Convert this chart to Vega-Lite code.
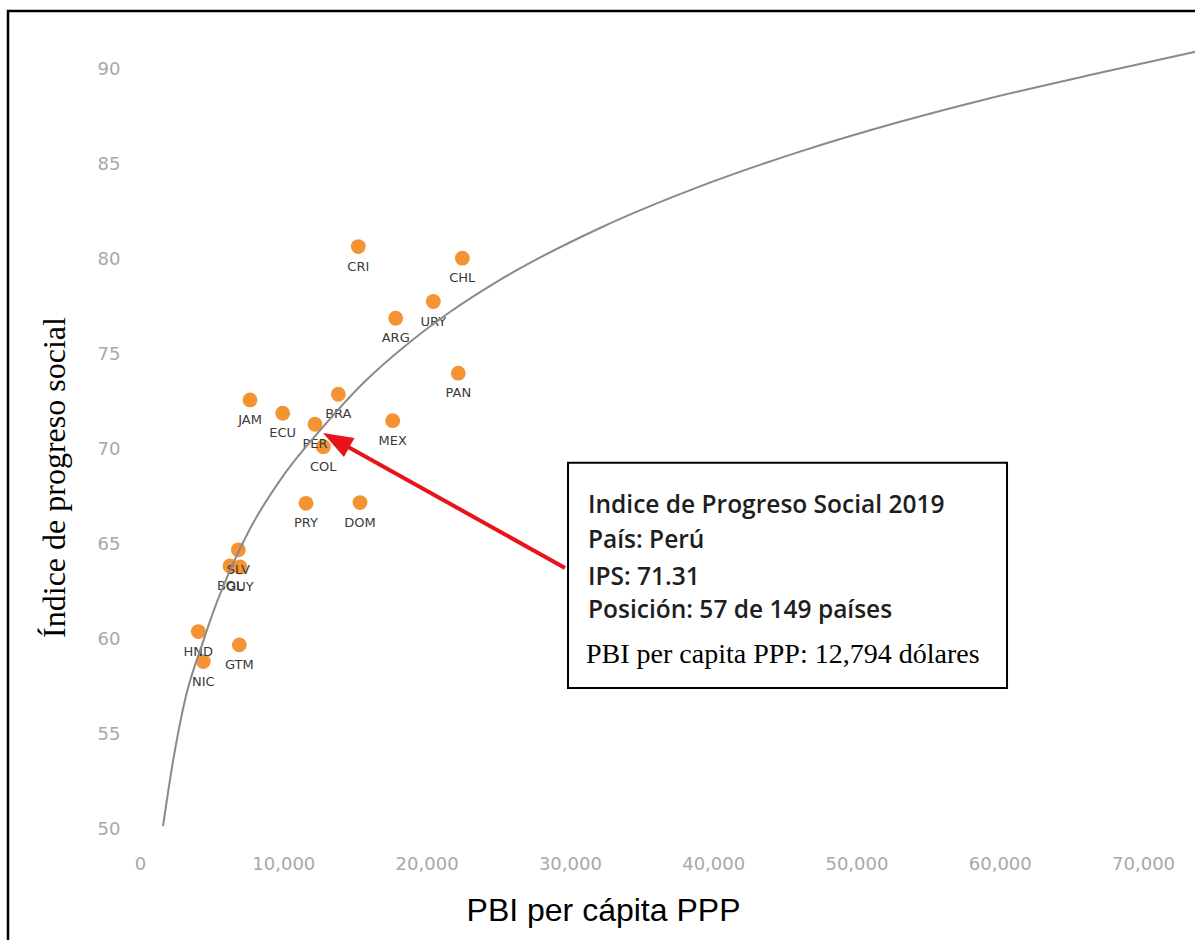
{
  "$schema": "https://vega.github.io/schema/vega-lite/v6.json",
  "width": 1190,
  "height": 932,
  "autosize": {"type": "none"},
  "padding": {"left": 8, "top": 11, "right": -3, "bottom": -3},
  "background": "white",
  "config": {
    "view": {"stroke": "black", "strokeWidth": 2.5},
    "axis": {"grid": false, "domain": false, "ticks": false}
  },
  "datasets": {
    "countries": [
      {"iso": "CRI", "pbi": 15235, "ips": 80.70},
      {"iso": "CHL", "pbi": 22494, "ips": 80.09},
      {"iso": "URY", "pbi": 20470, "ips": 77.81},
      {"iso": "ARG", "pbi": 17845, "ips": 76.93},
      {"iso": "PAN", "pbi": 22214, "ips": 74.04},
      {"iso": "BRA", "pbi": 13840, "ips": 72.93},
      {"iso": "JAM", "pbi": 7677, "ips": 72.63},
      {"iso": "ECU", "pbi": 9959, "ips": 71.93},
      {"iso": "MEX", "pbi": 17636, "ips": 71.54},
      {"iso": "COL", "pbi": 12793, "ips": 70.17},
      {"iso": "PER", "pbi": 12213, "ips": 71.35},
      {"iso": "PRY", "pbi": 11585, "ips": 67.19},
      {"iso": "DOM", "pbi": 15354, "ips": 67.23},
      {"iso": "SLV", "pbi": 6860, "ips": 64.74},
      {"iso": "BOL", "pbi": 6281, "ips": 63.89},
      {"iso": "GUY", "pbi": 6979, "ips": 63.84},
      {"iso": "HND", "pbi": 4069, "ips": 60.44},
      {"iso": "NIC", "pbi": 4418, "ips": 58.86},
      {"iso": "GTM", "pbi": 6930, "ips": 59.74}
    ],
    "curve": [
      {"pbi": 1605, "ips": 50.2},
      {"pbi": 2300, "ips": 53.6},
      {"pbi": 3141, "ips": 56.84},
      {"pbi": 4397, "ips": 59.9},
      {"pbi": 5374, "ips": 62.0},
      {"pbi": 6421, "ips": 63.9},
      {"pbi": 7677, "ips": 65.85},
      {"pbi": 10001, "ips": 68.65},
      {"pbi": 12793, "ips": 71.23},
      {"pbi": 15584, "ips": 73.52},
      {"pbi": 18843, "ips": 75.68},
      {"pbi": 21635, "ips": 77.26},
      {"pbi": 25124, "ips": 78.95},
      {"pbi": 32103, "ips": 81.68},
      {"pbi": 39082, "ips": 83.87},
      {"pbi": 46061, "ips": 85.70},
      {"pbi": 53040, "ips": 87.27},
      {"pbi": 58833, "ips": 88.42},
      {"pbi": 67000, "ips": 89.85},
      {"pbi": 73629, "ips": 90.95}
    ],
    "box": [{"x1": 29870, "x2": 60508, "y1": 69.32, "y2": 57.47}],
    "arrow": [{"x1": 29661, "y1": 63.79, "x2": 13686, "y2": 70.51}],
    "head": [{"x": 13686, "y": 70.51}],
    "boxtext": [
      {"x": 31266, "y": 66.67, "t": "Indice de Progreso Social 2019"},
      {"x": 31266, "y": 64.83, "t": "País: Perú"},
      {"x": 31266, "y": 62.89, "t": "IPS: 71.31"},
      {"x": 31266, "y": 61.14, "t": "Posición: 57 de 149 países"}
    ],
    "boxtext2": [
      {"x": 31127, "y": 58.77, "t": "PBI per capita PPP: 12,794 dólares"}
    ]
  },
  "layer": [
    {
      "data": {"name": "countries"},
      "mark": {"type": "circle", "size": 220, "opacity": 1, "color": "#f39333"},
      "encoding": {
        "x": {
          "field": "pbi", "type": "quantitative",
          "scale": {"domain": [-9212, 73836], "nice": false, "zero": false},
          "axis": {
            "values": [0, 10000, 20000, 30000, 40000, 50000, 60000, 70000],
            "format": ",d",
            "orient": "bottom",
            "offset": -91,
            "labelPadding": 3,
            "labelFont": "DejaVu Sans",
            "labelFontSize": 18,
            "labelColor": "#a8a8a8",
            "title": "PBI per cápita PPP",
            "titleFont": "Liberation Sans",
            "titleFontSize": 32,
            "titleFontWeight": "normal",
            "titleColor": "#000000",
            "titlePadding": 22
          }
        },
        "y": {
          "field": "ips", "type": "quantitative",
          "scale": {"domain": [44.05, 93.1], "nice": false, "zero": false},
          "axis": {
            "values": [50, 55, 60, 65, 70, 75, 80, 85, 90],
            "orient": "left",
            "offset": -118,
            "labelPadding": 6,
            "labelFont": "DejaVu Sans",
            "labelFontSize": 18,
            "labelColor": "#a8a8a8",
            "title": "Índice de progreso social",
            "titleFont": "Liberation Serif",
            "titleFontSize": 32,
            "titleFontWeight": "normal",
            "titleColor": "#000000",
            "titlePadding": 26
          }
        }
      }
    },
    {
      "data": {"name": "countries"},
      "mark": {"type": "text", "dy": 20, "baseline": "middle", "align": "center", "font": "DejaVu Sans", "fontSize": 13, "color": "#3a3a3a"},
      "encoding": {
        "x": {"field": "pbi", "type": "quantitative"},
        "y": {"field": "ips", "type": "quantitative"},
        "text": {"field": "iso"}
      }
    },
    {
      "data": {"name": "curve"},
      "mark": {"type": "line", "interpolate": "monotone", "color": "#8a8a8a", "strokeWidth": 2},
      "encoding": {
        "x": {"field": "pbi", "type": "quantitative"},
        "y": {"field": "ips", "type": "quantitative"}
      }
    },
    {
      "data": {"name": "arrow"},
      "mark": {"type": "rule", "color": "#e8141c", "strokeWidth": 4},
      "encoding": {
        "x": {"field": "x1", "type": "quantitative"},
        "y": {"field": "y1", "type": "quantitative"},
        "x2": {"field": "x2"},
        "y2": {"field": "y2"}
      }
    },
    {
      "data": {"name": "head"},
      "mark": {"type": "point", "shape": "M0,-1L-0.72,1L0.72,1Z", "size": 900, "angle": 299.2, "filled": true, "opacity": 1, "color": "#e8141c"},
      "encoding": {
        "x": {"field": "x", "type": "quantitative"},
        "y": {"field": "y", "type": "quantitative"}
      }
    },
    {
      "data": {"name": "box"},
      "mark": {"type": "rect", "fill": "white", "stroke": "black", "strokeWidth": 2},
      "encoding": {
        "x": {"field": "x1", "type": "quantitative"},
        "x2": {"field": "x2"},
        "y": {"field": "y1", "type": "quantitative"},
        "y2": {"field": "y2"}
      }
    },
    {
      "data": {"name": "boxtext"},
      "mark": {"type": "text", "align": "left", "baseline": "alphabetic", "font": "Open Sans", "fontWeight": 600, "fontSize": 24.5, "color": "#1e1e1e"},
      "encoding": {
        "x": {"field": "x", "type": "quantitative"},
        "y": {"field": "y", "type": "quantitative"},
        "text": {"field": "t"}
      }
    },
    {
      "data": {"name": "boxtext2"},
      "mark": {"type": "text", "align": "left", "baseline": "alphabetic", "font": "Liberation Serif", "fontSize": 28, "color": "#000000"},
      "encoding": {
        "x": {"field": "x", "type": "quantitative"},
        "y": {"field": "y", "type": "quantitative"},
        "text": {"field": "t"}
      }
    }
  ]
}
